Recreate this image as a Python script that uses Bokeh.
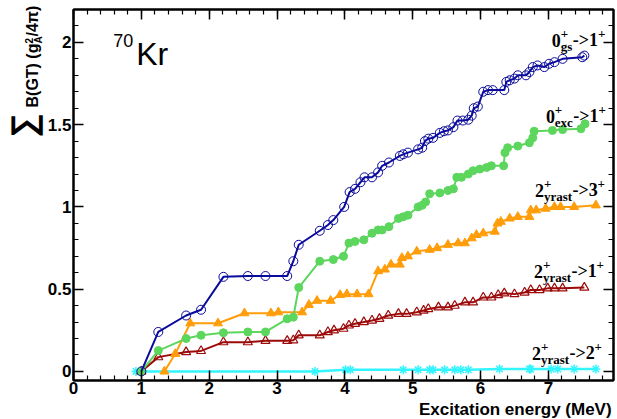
import math
from bokeh.plotting import figure
from bokeh.layouts import row, column
from bokeh.models import Range1d, LinearAxis, SingleIntervalTicker, Label
from bokeh.embed import file_html
from bokeh.resources import INLINE

# ---------------- data ----------------
gs_x = [1.00, 1.25, 1.66, 1.88, 2.21, 2.57, 2.83, 3.15, 3.24, 3.32, 3.63, 3.75, 3.83, 3.99,
        4.07, 4.15, 4.23, 4.29, 4.40, 4.49, 4.55, 4.65, 4.81, 4.86, 4.93, 5.08, 5.14, 5.18,
        5.23, 5.30, 5.40, 5.46, 5.52, 5.60, 5.66, 5.74, 5.82, 5.87, 5.90, 5.96, 6.04, 6.11,
        6.18, 6.35, 6.38, 6.43, 6.50, 6.55, 6.67, 6.72, 6.77, 6.84, 6.94, 7.01, 7.09, 7.21,
        7.50, 7.53]
gs_y = [0.00, 0.24, 0.34, 0.375, 0.575, 0.58, 0.58, 0.58, 0.67, 0.77, 0.855, 0.89, 0.92, 1.00,
        1.09, 1.11, 1.15, 1.18, 1.18, 1.21, 1.25, 1.27, 1.31, 1.32, 1.33, 1.35, 1.36, 1.40,
        1.415, 1.42, 1.45, 1.46, 1.465, 1.485, 1.525, 1.525, 1.53, 1.555, 1.60, 1.61, 1.70, 1.71,
        1.71, 1.71, 1.76, 1.77, 1.78, 1.80, 1.80, 1.82, 1.85, 1.86, 1.85, 1.87, 1.88, 1.90,
        1.91, 1.92]

exc_x = [1.00, 1.25, 1.66, 1.88, 2.21, 2.57, 2.83, 3.15, 3.24, 3.32, 3.63, 3.83, 3.98, 4.06,
         4.15, 4.28, 4.40, 4.49, 4.55, 4.65, 4.79, 4.86, 4.93, 5.08, 5.14, 5.19, 5.25, 5.40,
         5.52, 5.60, 5.65, 5.72, 5.82, 5.89, 5.99, 6.09, 6.16, 6.34, 6.36, 6.40, 6.55, 6.72,
         6.77, 6.79, 7.06, 7.21, 7.48, 7.54]
exc_y = [0.00, 0.127, 0.20, 0.22, 0.235, 0.24, 0.24, 0.32, 0.33, 0.51, 0.67, 0.68, 0.70, 0.78,
         0.79, 0.80, 0.84, 0.86, 0.86, 0.88, 0.93, 0.94, 0.95, 1.00, 1.01, 1.03, 1.08, 1.085,
         1.10, 1.11, 1.18, 1.18, 1.20, 1.22, 1.23, 1.24, 1.25, 1.25, 1.33, 1.36, 1.37, 1.39,
         1.42, 1.46, 1.465, 1.47, 1.475, 1.505]

y3_x = [1.34, 1.50, 1.72, 2.13, 2.52, 2.91, 3.02, 3.37, 3.47, 3.59, 3.79, 3.93, 4.03, 4.18,
        4.35, 4.49, 4.59, 4.68, 4.81, 4.84, 4.93, 5.06, 5.25, 5.36, 5.52, 5.67, 5.77, 5.87,
        5.94, 6.04, 6.21, 6.25, 6.30, 6.43, 6.55, 6.72, 6.74, 6.82, 6.96, 7.09, 7.18, 7.38, 7.70]
y3_y = [0.00, 0.107, 0.293, 0.293, 0.354, 0.354, 0.36, 0.36, 0.405, 0.43, 0.43, 0.465, 0.47, 0.47,
        0.47, 0.61, 0.62, 0.65, 0.65, 0.69, 0.70, 0.73, 0.74, 0.75, 0.77, 0.78, 0.78, 0.81,
        0.83, 0.84, 0.85, 0.90, 0.91, 0.93, 0.94, 0.94, 0.98, 0.98, 0.99, 1.00, 1.00, 1.00, 1.01]

y1_x = [1.00, 1.25, 1.66, 1.88, 2.21, 2.57, 2.83, 3.15, 3.24, 3.32, 3.63, 3.75, 3.84, 3.98,
        4.06, 4.15, 4.28, 4.40, 4.51, 4.64, 4.79, 4.91, 5.06, 5.16, 5.23, 5.38, 5.52, 5.62,
        5.77, 5.89, 6.04, 6.16, 6.26, 6.35, 6.50, 6.65, 6.74, 6.87, 6.99, 7.09, 7.21, 7.53]
y1_y = [0.00, 0.087, 0.118, 0.125, 0.178, 0.178, 0.186, 0.186, 0.19, 0.22, 0.22, 0.24, 0.25, 0.26,
        0.28, 0.29, 0.30, 0.31, 0.32, 0.34, 0.35, 0.35, 0.36, 0.37, 0.38, 0.39, 0.39, 0.40,
        0.42, 0.42, 0.45, 0.45, 0.465, 0.475, 0.47, 0.48, 0.495, 0.495, 0.505, 0.505, 0.505, 0.51]

y2_x = [0.92, 1.00, 3.56, 4.01, 4.08, 4.86, 5.08, 5.25, 5.30, 5.47, 5.62, 5.71, 5.82, 6.28,
        6.72, 6.74, 7.04, 7.14, 7.38, 7.70]
y2_y = [0.0, 0.0, 0.0, 0.01, 0.01, 0.01, 0.01, 0.01, 0.01, 0.01, 0.01, 0.01, 0.01, 0.015,
        0.015, 0.015, 0.015, 0.015, 0.015, 0.015]

x_tick_interval = 1
y_ticks = [0, 0.5, 1, 1.5, 2]
y_tick_labels = ["0", "0.5", "1", "1.5", "2"]

# labels: (initial spin, subscript, final spin)
trans_labels = [("0", "gs", "1"), ("0", "exc", "1"), ("2", "yrast", "3"),
                ("2", "yrast", "1"), ("2", "yrast", "2")]
x_title = "Excitation energy (MeV)"
nucleus_mass = "70"
nucleus_sym = "Kr"

BLUE = "#0a0a9c"
GREEN = "#5cd65c"
ORANGE = "#ff9d0a"
DRED = "#9c0a0a"
CYAN = "#33f5ff"

# ---------------- layout (page pixels) ----------------
W, H = 617, 419
LW = 44          # left strip holding the y title
BH = 18          # bottom strip holding the x title
FL, FR, FT, FB = 70, 613, 9, 380
X0, X1 = 0.0, 7.96
Y0, Y1 = -0.055, 2.2
BASE_SHIFT = 0.3  # Bokeh draws the alphabetic baseline ~0.3 em below the anchor

p = figure(width=W - LW, height=H - BH, x_range=Range1d(X0, X1), y_range=Range1d(Y0, Y1),
           output_backend="svg", toolbar_location=None,
           x_axis_location=None, y_axis_location=None,
           min_border_left=FL - LW, min_border_right=W - FR,
           min_border_top=FT, min_border_bottom=(H - BH) - FB)
p.grid.visible = False
p.outline_line_color = "black"
p.outline_line_width = 2
p.background_fill_color = "white"
p.border_fill_color = "white"


def style_axis(ax, labels):
    ax.axis_line_width = 2
    ax.axis_line_color = "black"
    ax.major_tick_in = 10
    ax.major_tick_out = 0
    ax.minor_tick_in = 5
    ax.minor_tick_out = 0
    ax.major_tick_line_width = 1.5
    ax.minor_tick_line_width = 1.2
    if labels:
        ax.major_label_text_font = "Liberation Sans"
        ax.major_label_text_font_style = "bold"
        ax.major_label_text_font_size = "17px"
        ax.major_label_text_color = "black"
    else:
        ax.major_label_text_font_size = "1px"
        ax.major_label_text_color = None
        ax.major_label_standoff = 0


xb = LinearAxis(ticker=SingleIntervalTicker(interval=x_tick_interval, num_minor_ticks=5))
style_axis(xb, True)
xb.major_label_standoff = 1
p.add_layout(xb, "below")

xt = LinearAxis(ticker=SingleIntervalTicker(interval=x_tick_interval, num_minor_ticks=5))
style_axis(xt, False)
p.add_layout(xt, "above")

yl = LinearAxis(ticker=SingleIntervalTicker(interval=0.5, num_minor_ticks=5))
style_axis(yl, True)
yl.major_label_standoff = 2
yl.major_label_overrides = dict(zip(y_ticks, y_tick_labels))
p.add_layout(yl, "left")

yr = LinearAxis(ticker=SingleIntervalTicker(interval=0.5, num_minor_ticks=5))
style_axis(yr, False)
p.add_layout(yr, "right")

# ---------------- series ----------------
p.line(y2_x, y2_y, line_color=CYAN, line_width=2.5)
p.scatter(y2_x, y2_y, marker="asterisk", size=9, line_color=CYAN, line_width=1.5)

p.line(y1_x, y1_y, line_color=DRED, line_width=2)
p.scatter(y1_x, y1_y, marker="triangle", size=9, fill_color=None, line_color=DRED, line_width=1.2)

p.line(y3_x, y3_y, line_color=ORANGE, line_width=2)
p.scatter(y3_x, y3_y, marker="triangle", size=9, fill_color=ORANGE, line_color=ORANGE)

p.line(exc_x, exc_y, line_color=GREEN, line_width=2)
p.scatter(exc_x, exc_y, marker="circle", size=8, fill_color=GREEN, line_color=GREEN)

p.line(gs_x, gs_y, line_color=BLUE, line_width=2)
p.scatter(gs_x, gs_y, marker="circle", size=9, fill_color=None, line_color=BLUE, line_width=1)


# ---------------- text helpers ----------------
def px2x(px):
    return X0 + (px - FL) / (FR - FL) * (X1 - X0)


def py2y(py):
    return Y0 + (FB - py) / (FB - FT) * (Y1 - Y0)


def mk(fig, x, y, text, size, font, style, angle=0.0, align="left"):
    fig.add_layout(Label(x=x, y=y, text=text, text_font=font,
                         text_font_size=f"{size}px", text_font_style=style,
                         text_align=align, text_baseline="alphabetic", angle=angle,
                         text_color="black"))


def lab(px, py, text, size, font="Liberation Serif", style="bold", align="left"):
    py = py - BASE_SHIFT * size
    mk(p, px2x(px), py2y(py), text, size, font, style, 0.0, align)


TW = {"0": .5, "1": .5, "2": .5, "3": .5, "-": .333, ">": .570, "+": .570,
      "g": .5, "s": .389, "e": .444, "x": .5, "c": .444, "y": .5, "r": .444,
      "a": .5, "t": .333}


def tw(s, size):
    return sum(TW.get(c, 0.5) for c in s) * size


label_pos = [(551, 45), (545, 121), (534, 195), (533, 276), (531, 358)]
M, S = 18, 13
for (a, sub, b), (px, base) in zip(trans_labels, label_pos):
    lab(px, base, a, M)
    x = px + tw(a, M)
    lab(x, base - 8, "+", S)
    lab(x, base + 5, sub, S)
    x += max(tw("+", S), tw(sub, S)) + 0.5
    lab(x, base, "->" + b, M)
    x += tw("->" + b, M)
    lab(x, base - 8, "+", S)

# nucleus
lab(110, 45, nucleus_mass, 18, font="Liberation Sans", style="normal")
lab(133, 63, nucleus_sym, 32, font="Liberation Sans", style="normal")

# ---------------- left strip: y title (coordinates = page pixels) ----------------
left = figure(width=LW, height=H, x_range=Range1d(0, LW), y_range=Range1d(H, 0),
              output_backend="svg", toolbar_location=None,
              x_axis_location=None, y_axis_location=None, min_border=0)
left.grid.visible = False
left.outline_line_color = None
R = math.pi / 2


def vlab(bx, sy, text, size, font="Liberation Sans", style="bold"):
    # bx: x of the (vertical) baseline, sy: y where the upward-reading text starts
    mk(left, bx - BASE_SHIFT * size, sy, text, size, font, style, R)


vlab(33, 137, "\u2211", 34, style="bold")
vlab(37, 107, "B(GT) (g", 16)
vlab(31, 43, "2", 10)
vlab(41, 43, "A", 10)
vlab(37, 36, "/4\u03c0)", 16)

# ---------------- bottom strip: x title (coordinates = page pixels) ----------------
bottom = figure(width=W - LW, height=BH, x_range=Range1d(LW, W), y_range=Range1d(H, H - BH),
                output_backend="svg", toolbar_location=None,
                x_axis_location=None, y_axis_location=None, min_border=0)
bottom.grid.visible = False
bottom.outline_line_color = None
mk(bottom, 615, 414 - BASE_SHIFT * 17, x_title, 17, "Liberation Sans", "bold", 0.0, "right")

layout = row(left, column(p, bottom, spacing=0), spacing=0)
open("out.html", "w").write(file_html(layout, INLINE))
